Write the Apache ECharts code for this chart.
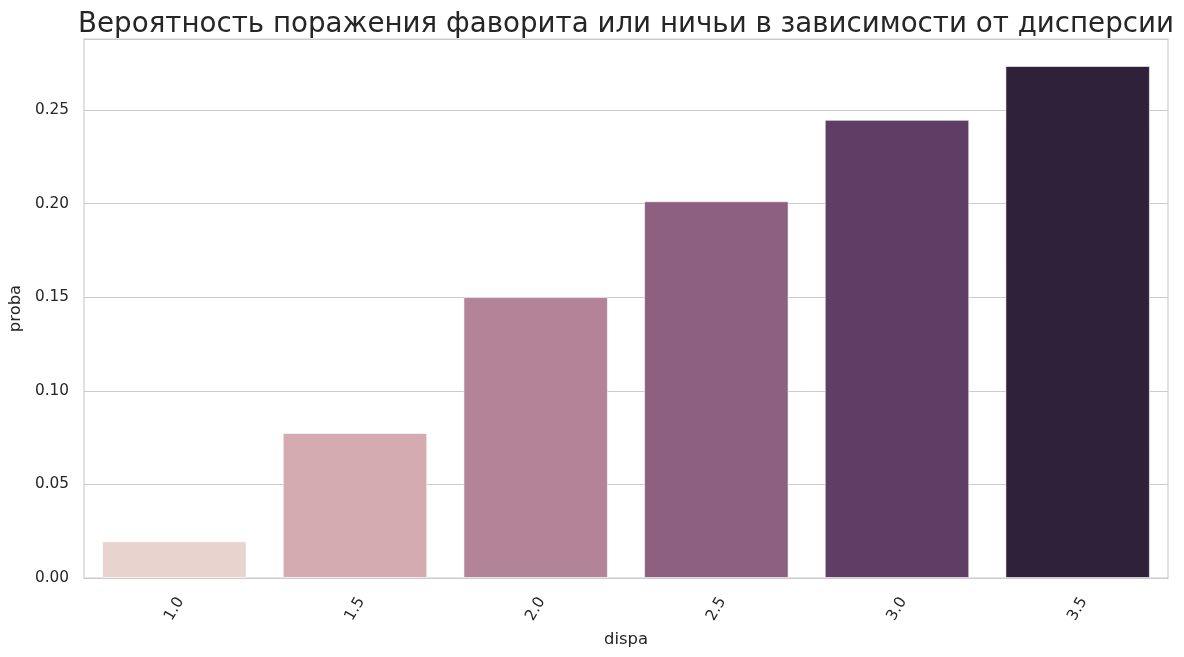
<!DOCTYPE html>
<html>
<head>
<meta charset="utf-8">
<script src="https://cdn.jsdelivr.net/npm/echarts@6/dist/echarts.min.js"></script>
<style>
html,body{margin:0;padding:0;background:#fff;}
#chart{width:1184px;height:657px;}
</style>
</head>
<body>
<div id="chart"></div>
<script>
const categories = ['1.0', '1.5', '2.0', '2.5', '3.0', '3.5'];
const probaValues = [0.0196, 0.0775, 0.1501, 0.2013, 0.2448, 0.2736];
const barColors = ['#e8d3cf', '#d4abb1', '#b38398', '#8d5f81', '#5f3e65', '#2f213a'];
const yTicks = [0, 0.05, 0.10, 0.15, 0.20, 0.25];

const font = 'DejaVu Sans';
const chart = echarts.init(document.getElementById('chart'), null, {renderer: 'canvas'});
chart.setOption({
  animation: false,
  backgroundColor: '#ffffff',
  title: {
    text: 'Вероятность поражения фаворита или ничьи в зависимости от дисперсии',
    left: 621,
    textAlign: 'center',
    top: 6,
    textStyle: {fontFamily: font, fontSize: 27.7, fontWeight: 'normal', color: '#262626'}
  },
  grid: {
    left: 84, right: 16, top: 39, bottom: 79,
    show: true, borderColor: '#cccccc', borderWidth: 1.2
  },
  xAxis: {
    type: 'category',
    data: categories,
    name: 'dispa',
    nameLocation: 'middle',
    nameGap: 54,
    nameTextStyle: {fontFamily: font, fontSize: 16.4, color: '#262626'},
    axisLine: {show: true, lineStyle: {color: '#cccccc', width: 1.2}},
    axisTick: {show: false},
    axisLabel: {rotate: 60, align: 'center', verticalAlign: 'middle', margin: 31,
                fontFamily: font, fontSize: 15.3, color: '#262626'},
    splitLine: {show: false}
  },
  yAxis: {
    type: 'value',
    min: 0,
    max: 0.288,
    interval: 0.05,
    name: 'proba',
    nameLocation: 'middle',
    nameGap: 49,
    nameTextStyle: {fontFamily: font, fontSize: 16.4, color: '#262626'},
    axisLine: {show: false},
    axisTick: {show: false},
    axisLabel: {
      showMaxLabel: false,
      margin: 15,
      fontFamily: font, fontSize: 15.3, color: '#262626',
      formatter: v => yTicks.some(t => Math.abs(t - v) < 1e-9) ? v.toFixed(2) : ''
    },
    splitLine: {lineStyle: {color: '#cccccc', width: 1.2}}
  },
  series: [{
    type: 'bar',
    barCategoryGap: '20%',
    data: probaValues.map((v, i) => ({value: v, itemStyle: {color: barColors[i]}})),
    itemStyle: {borderColor: 'rgba(255,255,255,0.6)', borderWidth: 1}
  }]
});
</script>
</body>
</html>
